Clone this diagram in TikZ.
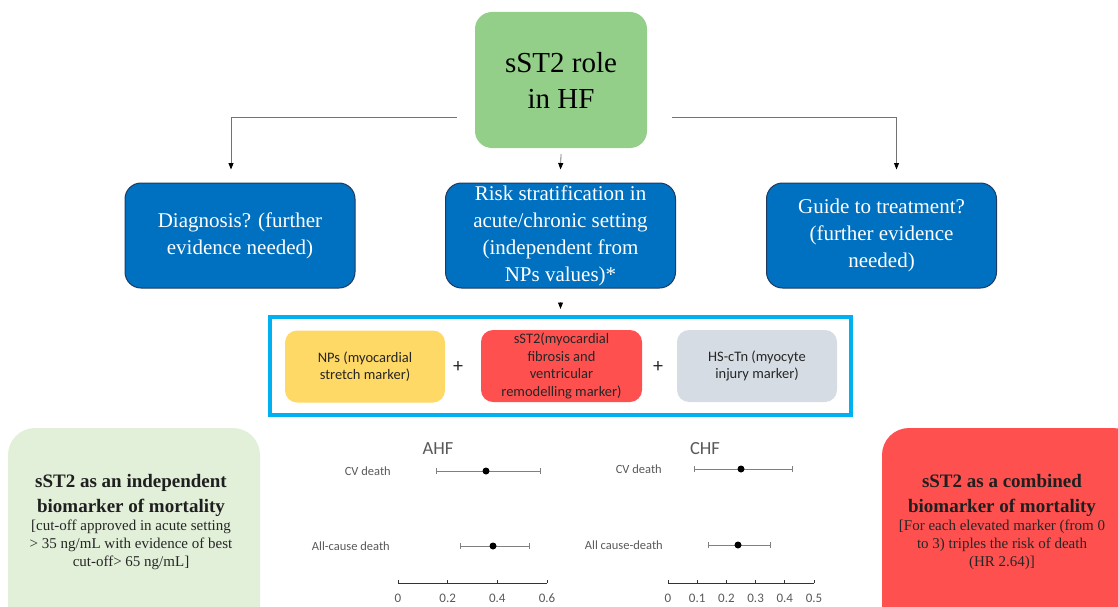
\documentclass[tikz,border=0pt]{standalone}
\usepackage{fontspec}
\setmainfont{Liberation Serif}
\newfontfamily\calfont{Carlito}
\usetikzlibrary{arrows.meta,calc}
\definecolor{topgreen}{HTML}{93CF89}
\definecolor{boxblue}{HTML}{0070C0}
\definecolor{boxedge}{HTML}{1F3A60}
\definecolor{cyanframe}{HTML}{00B0F0}
\definecolor{npyellow}{HTML}{FFD966}
\definecolor{sstred}{HTML}{FF5050}
\definecolor{tngrey}{HTML}{D6DCE4}
\definecolor{palegreen}{HTML}{E2F0D9}
\definecolor{plotgrey}{HTML}{595959}
\definecolor{whisk}{HTML}{808080}
\begin{document}
\begin{tikzpicture}[x=1pt,y=-1pt,
  topbox/.style={rounded corners=17pt, fill=topgreen, minimum width=172pt, minimum height=136pt,
    inner sep=0pt, align=center, font=\fontsize{29}{36}\selectfont},
  bluebox/.style={rounded corners=16pt, fill=boxblue, draw=boxedge, line width=1pt,
    minimum width=230pt, minimum height=105pt, inner sep=0pt, align=center, text=white,
    font=\fontsize{21}{27}\selectfont},
  markbox/.style={rounded corners=12pt, minimum width=160pt, minimum height=72pt, inner sep=0pt,
    align=center, text=black!85, font=\calfont\fontsize{14.5}{17.5}\selectfont},
  plus/.style={font=\calfont\fontsize{20}{20}\selectfont, text=black!85, inner sep=0pt},
  conn/.style={draw=black!55, line width=0.8pt, -{Triangle[black,length=6.5pt,width=5pt]}},
  bigbox/.style={rounded corners=27pt, minimum width=252pt, minimum height=224pt, inner sep=0pt},
  bigtitle/.style={align=center, inner sep=0pt, text=black!88, font=\bfseries\fontsize{19}{25}\selectfont},
  bigbody/.style={align=center, inner sep=0pt, text=black!85, font=\fontsize{15}{18}\selectfont},
  ptitle/.style={font=\calfont\fontsize{18.5}{20}\selectfont, text=plotgrey, inner sep=0pt},
  rowlab/.style={font=\calfont\fontsize{12.5}{14}\selectfont, text=plotgrey, anchor=east, inner sep=0pt},
  ticklab/.style={font=\calfont\fontsize{13}{14}\selectfont, text=plotgrey, inner sep=0pt},
  whisker/.style={draw=whisk, line width=1pt},
  axisline/.style={draw=black!80, line width=0.9pt},
  dotmark/.style={fill=black}
]
\useasboundingbox (0,0) rectangle (1118,607);
\clip (0,0) rectangle (1118,607);

% top
\node[topbox] (top) at (561,80) {sST2 role\\in HF};

% three blue boxes
\node[bluebox] (diag) at (240,235.5) {Diagnosis? (further\\evidence needed)};
\node[bluebox] (risk) at (560.5,235.5) {Risk stratification in\\acute/chronic setting\\(independent from\\NPs values)*};
\node[bluebox] (treat) at (881.5,235.5) {Guide to treatment?\\(further evidence\\needed)};

% connectors
\draw[conn] ([xshift=-18pt,yshift=31pt]top.south west) -| ([xshift=-9pt,yshift=13pt]diag.north);
\draw[conn] ([xshift=25pt,yshift=31pt]top.south east) -| ([xshift=15pt,yshift=13pt]treat.north);
\draw[conn] ([yshift=-6pt]top.south) -- ([yshift=13pt]risk.north);

% frame with markers
\node[draw=cyanframe, line width=4pt, minimum width=581pt, minimum height=98pt, inner sep=0pt] (frame) at (560.5,366) {};
\draw[conn] ([yshift=-13pt]risk.south) -- ([yshift=6pt]frame.north);

\node[markbox, fill=npyellow] (np) at (365,366.5) {NPs (myocardial\\stretch marker)};
\node[markbox, fill=sstred, minimum width=161pt] (sst) at (561.5,366) {sST2(myocardial\\fibrosis and\\ventricular\\remodelling marker)};
\node[markbox, fill=tngrey] (tn) at (757,366) {HS-cTn (myocyte\\injury marker)};
\node[plus] (p1) at (458,367) {+};
\node[plus] (p2) at (658,367) {+};

% bottom boxes
\node[bigbox, fill=palegreen] (indep) at (134,540) {};
\node[bigtitle] (indept) at (131,495) {sST2 as an independent\\biomarker of mortality};
\node[bigbody] (indepb) at (131,545) {[cut-off approved in acute setting\\> 35 ng/mL with evidence of best\\cut-off> 65 ng/mL]};

\node[bigbox, fill=sstred, minimum width=258pt] (comb) at (1011,540) {};
\node[bigtitle] (combt) at (1002,495) {sST2 as a combined\\biomarker of mortality};
\node[bigbody] (combb) at (1002,545) {[For each elevated marker (from 0\\to 3) triples the risk of death\\(HR 2.64)]};

% AHF forest plot
\node[ptitle] (ahf) at (438,449) {AHF};
\node[rowlab] (acv) at (391,471) {CV death};
\node[rowlab] (aall) at (390,546) {All-cause death};
\draw[whisker] (436,471) -- (540,471) (436,468) -- (436,474) (540,468) -- (540,474);
\fill[dotmark] (486,471) circle (3.5pt);
\draw[whisker] (460,546) -- (529,546) (460,543) -- (460,549) (529,543) -- (529,549);
\fill[dotmark] (493,546) circle (3.5pt);
\draw[axisline] (398,583) -- (547,583);
\foreach \v/\lab [count=\i] in {0/0,0.2/0.2,0.4/0.4,0.6/0.6} {
  \draw[axisline] ({398+248.33*\v},583) -- ({398+248.33*\v},580);
  \node[ticklab] (at\i) at ({398+248.33*\v},598) {\lab};
}

% CHF forest plot
\node[ptitle] (chf) at (705,449) {CHF};
\node[rowlab] (ccv) at (662,469) {CV death};
\node[rowlab] (call) at (663,545) {All cause-death};
\draw[whisker] (694,469) -- (792,469) (694,466) -- (694,472) (792,466) -- (792,472);
\fill[dotmark] (741,469) circle (3.5pt);
\draw[whisker] (708,545) -- (770,545) (708,542) -- (708,548) (770,542) -- (770,548);
\fill[dotmark] (738,545) circle (3.5pt);
\draw[axisline] (668,583) -- (814,583);
\foreach \v/\lab [count=\i] in {0/0,0.1/0.1,0.2/0.2,0.3/0.3,0.4/0.4,0.5/0.5} {
  \draw[axisline] ({668+292*\v},583) -- ({668+292*\v},580);
  \node[ticklab] (ct\i) at ({668+292*\v},598) {\lab};
}
\end{tikzpicture}
\end{document}
